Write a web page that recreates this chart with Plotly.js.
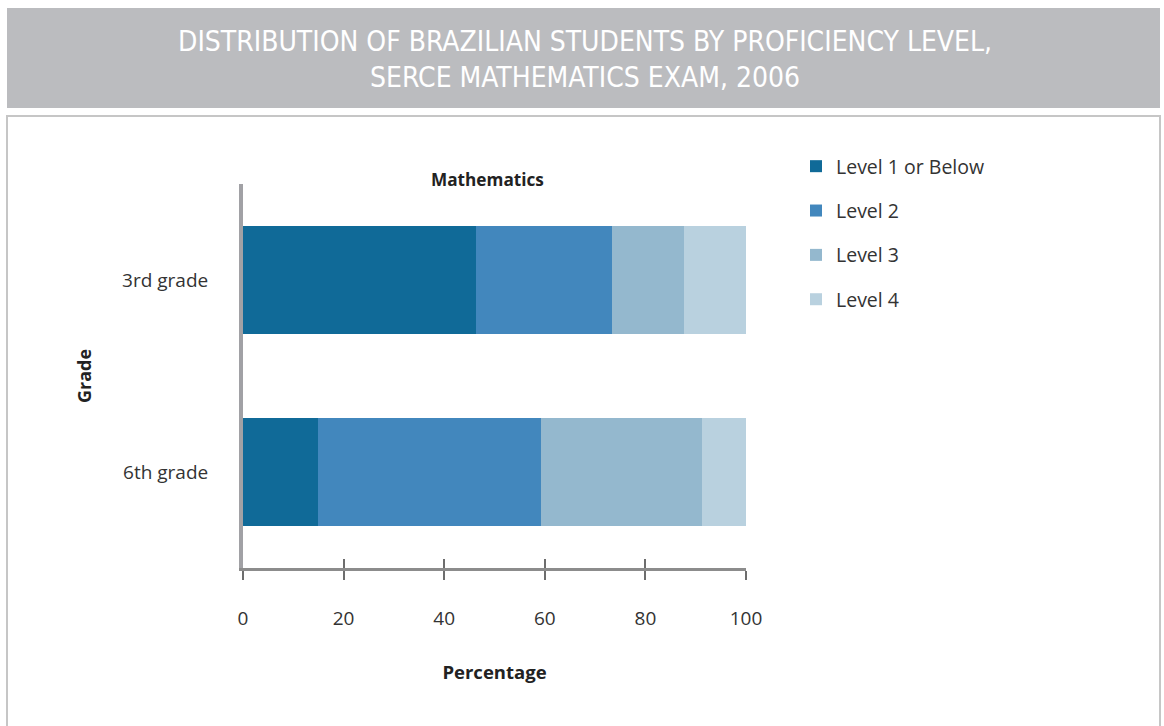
<!DOCTYPE html>
<html><head><meta charset="utf-8">
<script src="https://cdn.plot.ly/plotly-3.0.1.min.js"></script>
<style>html,body{margin:0;padding:0;background:#fff}#chart{width:1164px;height:726px}</style>
</head><body><div id="chart"></div>
<script>
// ---- data ----
const grades = ['3rd grade', '6th grade'];
const levelNames = ['Level 1 or Below', 'Level 2', 'Level 3', 'Level 4'];
const level1 = [46.4, 14.9];
const level2 = [26.9, 44.4];
const level3 = [14.4, 32.0];
const level4 = [12.3, 8.7];
const tickValues = [0, 20, 40, 60, 80, 100];
const colors = ['#106a98', '#4287bd', '#94b8ce', '#b9d1df'];

// ---- layout helpers (pixel -> paper) ----
const W = 1164, H = 726, L = 243, R = 746, T = 184, B = 568;
const px = x => (x - L) / (R - L);
const py = y => (B - y) / (B - T);

const series = [level1, level2, level3, level4];
const traces = series.map((vals, i) => ({
  type: 'bar', orientation: 'h',
  x: vals, y: grades, name: levelNames[i],
  legendgroup: 'g' + i,
  marker: {color: colors[i], line: {width: 0}},
  hoverinfo: 'name+x'
}));
traces.push({type: 'scatter', x: [], y: [], xaxis: 'x2', yaxis: 'y', showlegend: false, hoverinfo: 'skip'});

const font = 'Open Sans, Noto Sans, sans-serif';
const layout = {
  width: W, height: H,
  margin: {l: L, r: W - R, t: T, b: H - B, pad: 0},
  paper_bgcolor: '#ffffff', plot_bgcolor: 'rgba(0,0,0,0)',
  font: {family: font, size: 19, color: '#333333'},
  barmode: 'stack', bargap: 0.4375,
  showlegend: true,
  title: {
    text: 'DISTRIBUTION OF BRAZILIAN STUDENTS BY PROFICIENCY LEVEL,<br>SERCE MATHEMATICS EXAM, 2006',
    font: {family: 'DejaVu Sans Condensed, sans-serif', size: 28, color: '#ffffff'},
    x: 585 / W, xanchor: 'center', xref: 'container',
    y: 1 - 50.5 / H, yanchor: 'middle', yref: 'container'
  },
  xaxis: {
    range: [0, 100], tickvals: tickValues, ticktext: tickValues.map(String),
    showgrid: false, zeroline: false, fixedrange: true,
    showline: true, linecolor: '#8c8c8c', linewidth: 3,
    ticks: 'outside', ticklen: 9, tickwidth: 2, tickcolor: '#6d6d6d',
    ticklabelstandoff: 22,
    tickfont: {size: 19, color: '#333333'},
    title: {text: '<b>Percentage</b>', font: {size: 18.5, color: '#222222'}, standoff: 37},
    automargin: false
  },
  xaxis2: {
    overlaying: 'x', anchor: 'y', side: 'bottom', matches: 'x',
    range: [0, 100], tickvals: tickValues, showticklabels: false,
    showgrid: false, zeroline: false, showline: false,
    ticks: 'inside', ticklen: 9, tickwidth: 2, tickcolor: '#6d6d6d'
  },
  yaxis: {
    type: 'category', categoryorder: 'array', categoryarray: grades,
    range: [1.5, -0.5], autorange: false, fixedrange: true,
    showgrid: false, zeroline: false,
    showline: true, linecolor: '#a1a1a5', linewidth: 4,
    ticks: '', ticklabelstandoff: 27,
    tickfont: {size: 19, color: '#333333'},
    title: {text: '<b>Grade</b>', font: {size: 18, color: '#222222'}, standoff: 27},
    automargin: false
  },
  legend: {
    x: px(796), y: py(147), xanchor: 'left', yanchor: 'top',
    xref: 'paper', yref: 'paper',
    traceorder: 'grouped', tracegroupgap: 16,
    font: {size: 19.5, color: '#333333'},
    bgcolor: 'rgba(0,0,0,0)', borderwidth: 0
  },
  annotations: [{
    text: '<b>Mathematics</b>', x: px(487), y: py(180), xref: 'paper', yref: 'paper',
    xanchor: 'center', yanchor: 'middle', showarrow: false,
    font: {size: 17.2, color: '#222222'}
  }],
  shapes: [
    {type: 'rect', xref: 'paper', yref: 'paper', x0: px(7), x1: px(1160), y0: py(8), y1: py(108),
     fillcolor: '#bbbcbf', line: {width: 0}, layer: 'below'},
    {type: 'rect', xref: 'paper', yref: 'paper', x0: px(7), x1: px(1160), y0: py(116), y1: py(740),
     fillcolor: 'rgba(0,0,0,0)', line: {width: 2, color: '#c6c6c6'}, layer: 'below'}
  ]
};

Plotly.newPlot('chart', traces, layout, {displayModeBar: false, staticPlot: true});
</script>
</body></html>
